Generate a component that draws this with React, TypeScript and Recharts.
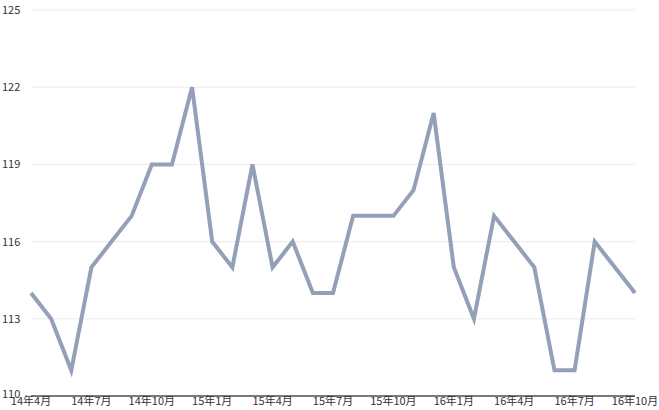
import { LineChart, Line, XAxis, YAxis, CartesianGrid } from "recharts";

const months = [
  "14年4月", "14年5月", "14年6月", "14年7月", "14年8月", "14年9月",
  "14年10月", "14年11月", "14年12月", "15年1月", "15年2月", "15年3月",
  "15年4月", "15年5月", "15年6月", "15年7月", "15年8月", "15年9月",
  "15年10月", "15年11月", "15年12月", "16年1月", "16年2月", "16年3月",
  "16年4月", "16年5月", "16年6月", "16年7月", "16年8月", "16年9月",
  "16年10月",
];

const values = [
  114, 113, 111, 115, 116, 117, 119, 119, 122, 116, 115, 119,
  115, 116, 114, 114, 117, 117, 117, 118, 121, 115, 113, 117,
  116, 115, 111, 111, 116, 115, 114,
];

const yTicks = [110, 113, 116, 119, 122, 125];

const data = months.map((m, i) => ({ month: m, value: values[i] }));

const FONT = '"Noto Sans CJK JP", "Noto Sans", sans-serif';

// y labels sit left-aligned at the page edge; the bottom one is nudged up a little
function YTick(props: any) {
  const { y, payload } = props;
  const dy = payload.value === 110 ? 2 : 4;
  return (
    <text x={2} y={y} dy={dy} textAnchor="start" fontSize={11} fill="#333" fontFamily={FONT}>
      {payload.value}
    </text>
  );
}

export default function App() {
  return (
    <div style={{ width: 659, height: 410, background: "#fff" }}>
      <style>{"body { margin: 0; }"}</style>
      <LineChart
        width={659}
        height={410}
        data={data}
        margin={{ top: 10, right: 24, left: 0, bottom: 0 }}
      >
        <CartesianGrid vertical={false} stroke="#ebebeb" />
        <XAxis
          dataKey="month"
          interval={2}
          height={14}
          tickLine={false}
          tickSize={0}
          tickMargin={1}
          axisLine={{ stroke: "#000", strokeWidth: 1 }}
          tick={{ fontSize: 11, fill: "#333", fontFamily: FONT }}
        />
        <YAxis
          width={31}
          domain={[110, 125]}
          ticks={yTicks}
          axisLine={false}
          tickLine={false}
          tick={<YTick />}
        />
        <Line
          type="linear"
          dataKey="value"
          stroke="#94a0b8"
          strokeWidth={4}
          dot={false}
          isAnimationActive={false}
        />
      </LineChart>
    </div>
  );
}
